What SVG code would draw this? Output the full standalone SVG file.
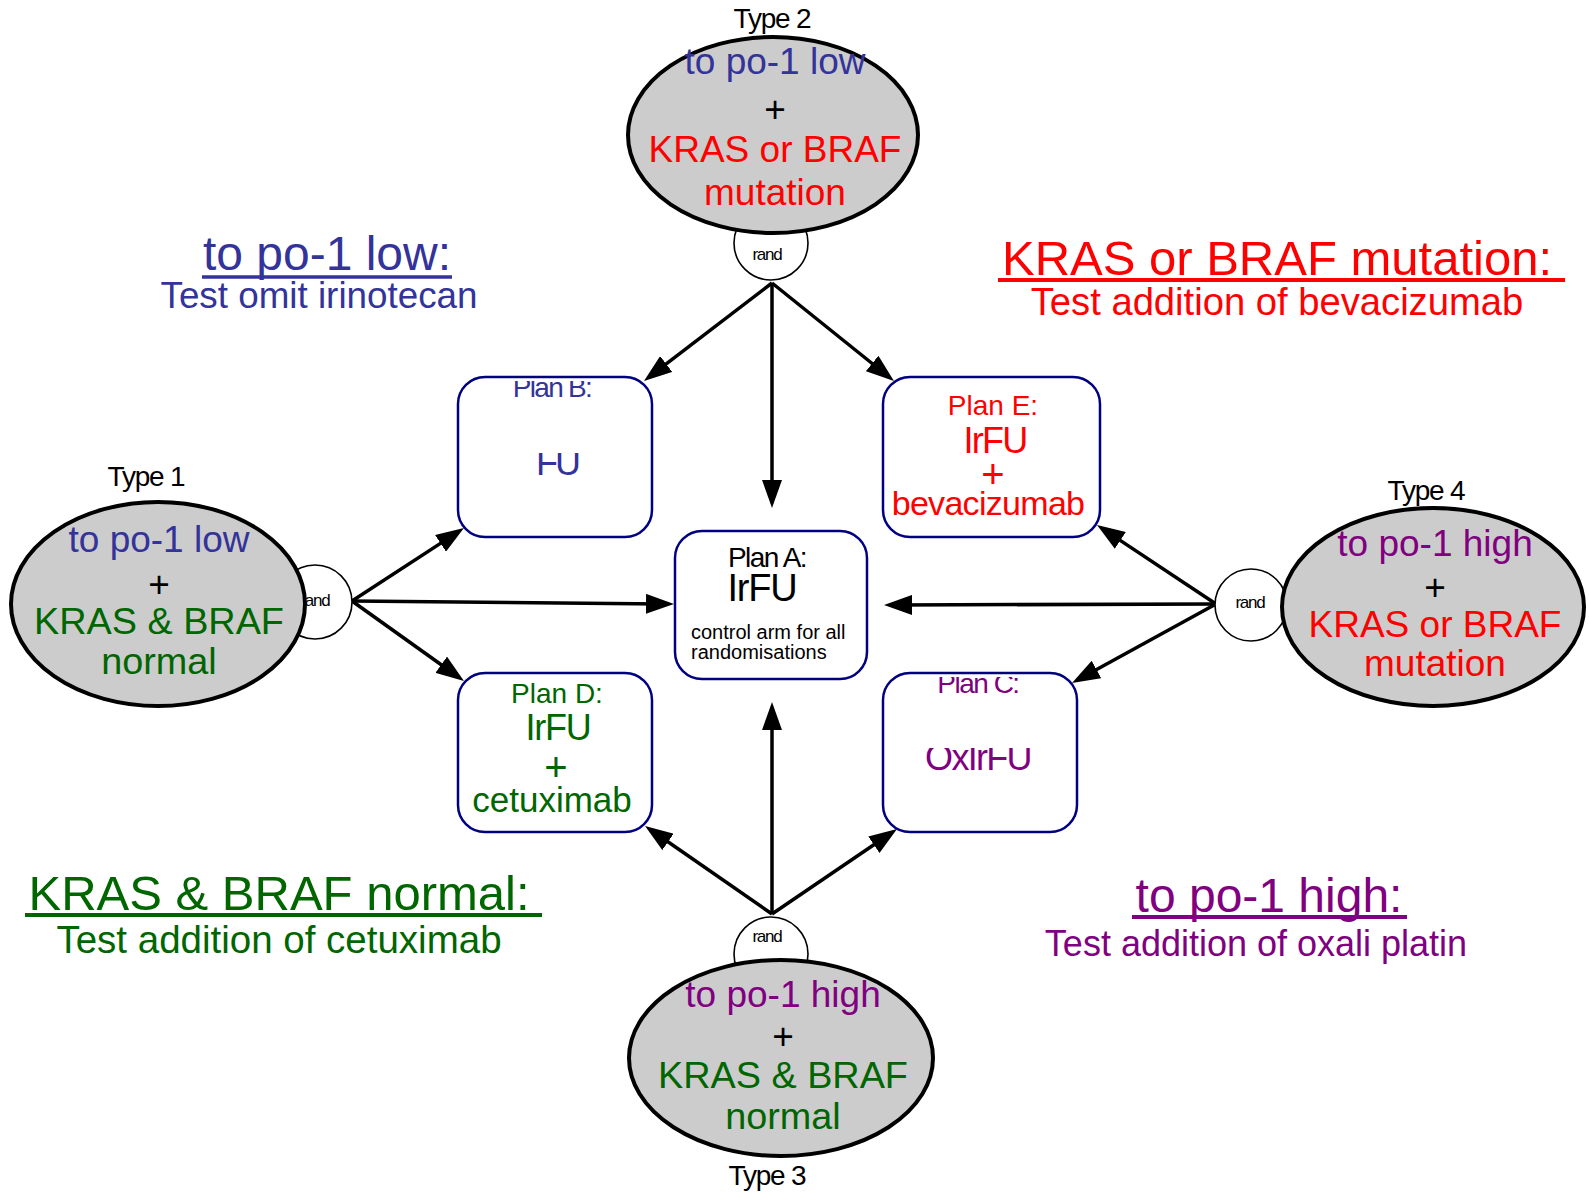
<svg xmlns="http://www.w3.org/2000/svg" width="1589" height="1195" viewBox="0 0 1589 1195">
<style>
text{font-family:"Liberation Sans",Arial,sans-serif;}
.c{text-anchor:middle;}
.blue{fill:#333399;}
.red{fill:#ff0000;}
.green{fill:#006600;}
.purple{fill:#800080;}
.blk{fill:#000;}
.ell{fill:#cccccc;stroke:#000;stroke-width:4;}
.rand{fill:#fff;stroke:#000;stroke-width:1.6;}
.randt{font-size:17px;letter-spacing:-1.2px;text-anchor:middle;fill:#000;}
.et{font-size:37px;text-anchor:middle;}
.typ{font-size:28px;letter-spacing:-1.2px;text-anchor:middle;fill:#000;}
.box{fill:#fff;stroke:#000080;stroke-width:2.5;}
.arr{stroke:#000;stroke-width:3.5;fill:none;marker-end:url(#ah);}
.h1{font-size:48px;text-anchor:middle;}
.h2{font-size:36px;text-anchor:middle;}
</style>
<defs>
<marker id="ah" markerUnits="userSpaceOnUse" markerWidth="28" markerHeight="20" refX="16" refY="10" orient="auto">
<path d="M0,0 L28,10 L0,20 z" fill="#000"/>
</marker>
<clipPath id="cB1"><rect x="440" y="381" width="230" height="40"/></clipPath>
<clipPath id="cB2"><rect x="440" y="453" width="230" height="40"/></clipPath>
<clipPath id="cC1"><rect x="870" y="677" width="230" height="40"/></clipPath>
<clipPath id="cC2"><rect x="870" y="748" width="230" height="40"/></clipPath>
</defs>

<g id="connectors">
<path class="arr" d="M772,283 L653.5,373.7"/>
<path class="arr" d="M772,283 L772,496"/>
<path class="arr" d="M772,283 L884.6,373.5"/>
<path class="arr" d="M352,601 L453.9,534.6"/>
<path class="arr" d="M352,601 L662,604"/>
<path class="arr" d="M352,601 L454.2,674"/>
<path class="arr" d="M1216,604 L1107,531.6"/>
<path class="arr" d="M1216,604 L896,605"/>
<path class="arr" d="M1216,604 L1082.5,677.2"/>
<path class="arr" d="M772,914 L654.9,832.8"/>
<path class="arr" d="M772,914 L772,714"/>
<path class="arr" d="M772,914 L887.1,835.7"/>
</g>

<g id="type2">
<circle class="rand" cx="771" cy="243" r="37"/>
<text class="randt" x="767" y="260">rand</text>
<ellipse class="ell" cx="773" cy="135" rx="145" ry="98"/>
<text class="typ" x="772" y="28">Type 2</text>
<text class="et blue" x="775" y="74">to po-1 low</text>
<text class="et blk" x="775" y="122">+</text>
<text class="et red" x="775" y="162">KRAS or BRAF</text>
<text class="et red" x="775" y="205">mutation</text>
</g>

<g id="type1">
<circle class="rand" cx="315" cy="602" r="37"/>
<text class="randt" x="315" y="606">rand</text>
<ellipse class="ell" cx="158" cy="604" rx="147" ry="102"/>
<text class="typ" x="146" y="486">Type 1</text>
<text class="et blue" x="159" y="552">to po-1 low</text>
<text class="et blk" x="159" y="597">+</text>
<text class="et green" x="159" y="634" style="font-size:37.8px">KRAS &amp; BRAF</text>
<text class="et green" x="159" y="674" style="font-size:37.8px">normal</text>
</g>

<g id="type4">
<circle class="rand" cx="1251" cy="605" r="36"/>
<text class="randt" x="1250" y="608">rand</text>
<ellipse class="ell" cx="1433" cy="607" rx="151" ry="99"/>
<text class="typ" x="1426" y="500">Type 4</text>
<text class="et purple" x="1435" y="556">to po-1 high</text>
<text class="et blk" x="1435" y="600">+</text>
<text class="et red" x="1435" y="637">KRAS or BRAF</text>
<text class="et red" x="1435" y="676">mutation</text>
</g>

<g id="type3">
<circle class="rand" cx="771" cy="954" r="37"/>
<text class="randt" x="767" y="942">rand</text>
<ellipse class="ell" cx="781" cy="1058" rx="152" ry="98"/>
<text class="typ" x="767" y="1185">Type 3</text>
<text class="et purple" x="783" y="1007">to po-1 high</text>
<text class="et blk" x="783" y="1049">+</text>
<text class="et green" x="783" y="1088" style="font-size:37.8px">KRAS &amp; BRAF</text>
<text class="et green" x="783" y="1129" style="font-size:37.8px">normal</text>
</g>

<g id="planB">
<rect class="box" x="458" y="377" width="194" height="160" rx="27"/>
<text class="c blue" x="552" y="397" font-size="28" letter-spacing="-1.7" clip-path="url(#cB1)">Plan B:</text>
<text class="c blue" x="557" y="475" font-size="36" letter-spacing="-3" clip-path="url(#cB2)">FU</text>
</g>

<g id="planE">
<rect class="box" x="883" y="377" width="217" height="160" rx="27"/>
<text class="c red" x="993" y="415" font-size="28">Plan E:</text>
<text class="c red" x="995" y="453" font-size="36" letter-spacing="-1.7">IrFU</text>
<text class="c red" x="993" y="488" font-size="40">+</text>
<text class="c red" x="988" y="515" font-size="34" letter-spacing="-0.7">bevacizumab</text>
</g>

<g id="planA">
<rect class="box" x="675" y="531" width="192" height="148" rx="27"/>
<text class="c blk" x="767" y="567" font-size="28" letter-spacing="-1.5">Plan A:</text>
<text class="c blk" x="762" y="601" font-size="38" letter-spacing="-1.2">IrFU</text>
<text class="blk" x="691" y="639" font-size="20">control arm for all</text>
<text class="blk" x="691" y="659" font-size="20">randomisations</text>
</g>

<g id="planD">
<rect class="box" x="458" y="673" width="194" height="159" rx="27"/>
<text class="c green" x="557" y="703" font-size="28">Plan D:</text>
<text class="c green" x="558" y="740" font-size="36" letter-spacing="-1.3">IrFU</text>
<text class="c green" x="556" y="781" font-size="40">+</text>
<text class="c green" x="552" y="812" font-size="35">cetuximab</text>
</g>

<g id="planC">
<rect class="box" x="883" y="673" width="194" height="159" rx="27"/>
<text class="c purple" x="978" y="693" font-size="28" letter-spacing="-1.5" clip-path="url(#cC1)">Plan C:</text>
<text class="c purple" x="978" y="770" font-size="36" letter-spacing="-1.7" clip-path="url(#cC2)">OxIrFU</text>
</g>

<g id="head-blue">
<text class="h1 blue" x="327" y="270">to po-1 low:</text>
<line x1="202" y1="277" x2="452" y2="277" stroke="#333399" stroke-width="3.5"/>
<text class="h2 blue" x="319" y="308" style="font-size:36.8px">Test omit irinotecan</text>
</g>

<g id="head-red">
<text class="h1 red" x="1277" y="275" style="font-size:49px">KRAS or BRAF mutation:</text>
<line x1="998" y1="280" x2="1565" y2="280" stroke="#ff0000" stroke-width="4"/>
<text class="h2 red" x="1277" y="315" style="font-size:38.2px">Test addition of bevacizumab</text>
</g>

<g id="head-green">
<text class="h1 green" x="279" y="910" style="font-size:49px">KRAS &amp; BRAF normal:</text>
<line x1="25" y1="915" x2="542" y2="915" stroke="#006600" stroke-width="4"/>
<text class="h2 green" x="279" y="953" style="font-size:38.5px">Test addition of cetuximab</text>
</g>

<g id="head-purple">
<text class="h1 purple" x="1269" y="912">to po-1 high:</text>
<line x1="1132" y1="917" x2="1407" y2="917" stroke="#800080" stroke-width="4"/>
<text class="h2 purple" x="1256" y="956" style="font-size:36px">Test addition of oxali platin</text>
</g>
</svg>
